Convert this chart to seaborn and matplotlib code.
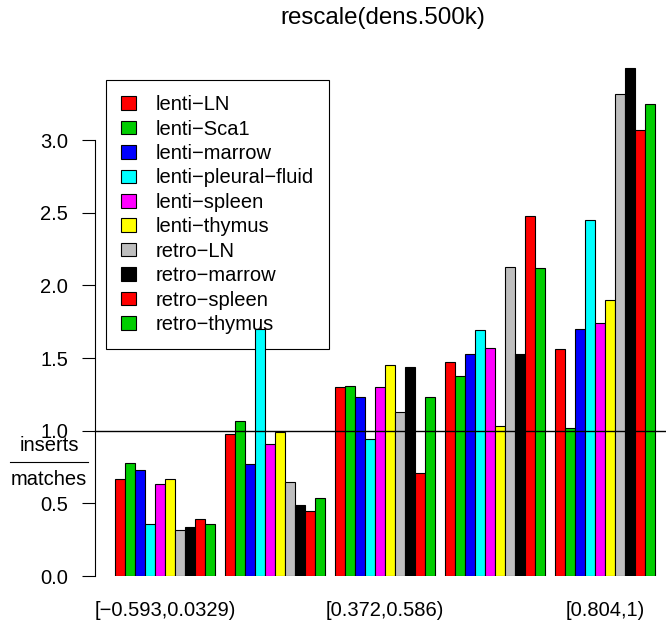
import pandas as pd
import matplotlib.pyplot as plt
from matplotlib.patches import Patch
from matplotlib.lines import Line2D
import seaborn as sns

# bins of rescaled density (labels for bins 2 and 4 are not shown in the figure)
bins = ['[\u22120.593,0.0329)', '[0.0329,0.372)', '[0.372,0.586)', '[0.586,0.804)', '[0.804,1)']
samples = ['lenti\u2212LN', 'lenti\u2212Sca1', 'lenti\u2212marrow', 'lenti\u2212pleural\u2212fluid',
           'lenti\u2212spleen', 'lenti\u2212thymus', 'retro\u2212LN', 'retro\u2212marrow',
           'retro\u2212spleen', 'retro\u2212thymus']
colors = ['#FF0000', '#00CD00', '#0000FF', '#00FFFF', '#FF00FF',
          '#FFFF00', '#BEBEBE', '#000000', '#FF0000', '#00CD00']

# inserts / matches ratio, one list per bin, in sample order
bin1 = [0.67, 0.78, 0.73, 0.36, 0.63, 0.67, 0.32, 0.34, 0.39, 0.36]
bin2 = [0.98, 1.07, 0.77, 1.70, 0.91, 0.99, 0.65, 0.49, 0.45, 0.54]
bin3 = [1.30, 1.31, 1.23, 0.94, 1.30, 1.45, 1.13, 1.44, 0.71, 1.23]
bin4 = [1.47, 1.38, 1.53, 1.69, 1.57, 1.03, 2.13, 1.53, 2.48, 2.12]
bin5 = [1.56, 1.02, 1.70, 2.45, 1.74, 1.90, 3.32, 3.50, 3.07, 3.25]

rows = []
for b, vals in zip(bins, [bin1, bin2, bin3, bin4, bin5]):
    for s, v in zip(samples, vals):
        rows.append({'bin': b, 'sample': s, 'ratio': v})
df = pd.DataFrame(rows)

plt.rcParams['font.family'] = ['Liberation Sans', 'DejaVu Sans']
fs = 14.5

fig = plt.figure(figsize=(6.66, 6.3), dpi=100)
ax = fig.add_axes([95 / 666, (630 - 576) / 630, 1 - 95 / 666, 523 / 630])

sns.barplot(data=df, x='bin', y='ratio', hue='sample', order=bins, hue_order=samples,
            palette=colors, saturation=1, width=10 / 11, gap=0, edgecolor='black',
            linewidth=0.8, legend=False, ax=ax)

ax.axhline(1.0, color='black', lw=1, clip_on=False)
ax.set_xlim(-0.636, 4.555)
ax.set_ylim(0, 3.6)

for side in ['top', 'right', 'bottom']:
    ax.spines[side].set_visible(False)
ax.spines['left'].set_bounds(0, 3)
ax.spines['left'].set_linewidth(0.8)
ax.set_yticks([0, 0.5, 1.0, 1.5, 2.0, 2.5, 3.0])
ax.set_yticklabels(['0.0', '0.5', '1.0', '1.5', '2.0', '2.5', '3.0'], fontsize=fs)
ax.tick_params(axis='y', length=9.4, width=0.8, pad=10)
ax.set_xticks([0, 2, 4])
ax.set_xticklabels([bins[0], bins[2], bins[4]], fontsize=fs)
ax.tick_params(axis='x', length=0, pad=18)
ax.set_xlabel('')
ax.set_ylabel('')

# fraction-style y label
fig.text(49 / 666, 1 - 451 / 630, 'inserts', ha='center', va='baseline', fontsize=fs)
fig.text(49 / 666, 1 - 485 / 630, 'matches', ha='center', va='baseline', fontsize=fs)
fig.add_artist(Line2D([10 / 666, 88 / 666], [1 - 462 / 630, 1 - 462 / 630],
                      color='black', lw=0.8, transform=fig.transFigure))

fig.text(383 / 666, 1 - 18 / 630, 'rescale(dens.500k)', ha='center', va='center', fontsize=17.4)

handles = [Patch(facecolor=c, edgecolor='black', linewidth=0.8) for c in colors]
leg = ax.legend(handles, samples, loc='upper left', bbox_to_anchor=(106 / 666, 1 - 80 / 630),
                bbox_transform=fig.transFigure, fontsize=fs, frameon=True, fancybox=False,
                edgecolor='black', framealpha=1, borderpad=0.75, labelspacing=0.27,
                handlelength=0.75, handleheight=0.65, handletextpad=0.95, borderaxespad=0)
leg.get_frame().set_linewidth(0.8)
# legend sits underneath the bars, as in the original
leg.set_zorder(0.5)

plt.savefig('out.png', dpi=100)
